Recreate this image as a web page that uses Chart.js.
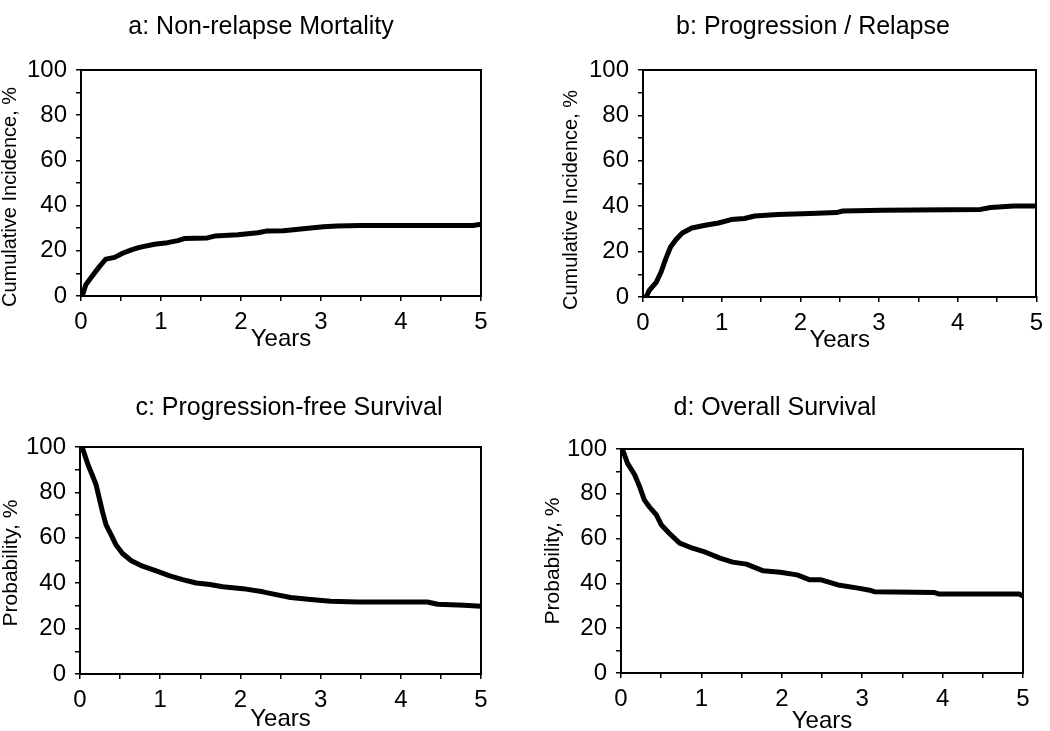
<!DOCTYPE html>
<html>
<head>
<meta charset="utf-8">
<script src="https://cdn.jsdelivr.net/npm/chart.js@4.4.0/dist/chart.umd.min.js"></script>
<style>
html,body{margin:0;padding:0;background:#fff;overflow:hidden;width:1050px;height:731px;}
canvas{position:absolute;display:block;}
</style>
</head>
<body>
<canvas id="cA" width="525" height="365" style="left:0;top:0"></canvas>
<canvas id="cB" width="525" height="365" style="left:525px;top:0"></canvas>
<canvas id="cC" width="525" height="366" style="left:0;top:365px"></canvas>
<canvas id="cD" width="525" height="366" style="left:525px;top:365px"></canvas>
<script>
// ---------- data ----------
const nrmYears = [0, 0.02, 0.06, 0.15, 0.23, 0.31, 0.42, 0.52, 0.63, 0.73, 0.92, 1.08, 1.21, 1.29, 1.58, 1.67, 1.96, 2.21, 2.33, 2.53, 2.78, 3.03, 3.2, 3.49, 4.9, 5.0];
const nrmPct   = [0, 0.5, 5, 9.3, 13, 16.3, 17.1, 18.9, 20.4, 21.5, 22.9, 23.6, 24.5, 25.4, 25.7, 26.5, 27.1, 28, 28.8, 28.9, 29.8, 30.6, 31, 31.2, 31.2, 31.8];

const relapseYears = [0, 0.04, 0.08, 0.17, 0.23, 0.29, 0.35, 0.42, 0.5, 0.62, 0.79, 0.96, 1.12, 1.29, 1.42, 1.71, 2.13, 2.46, 2.54, 3.04, 4.29, 4.42, 4.71, 5.0];
const relapsePct   = [0, 0, 2.9, 6.6, 11, 16.9, 22, 25.3, 28.2, 30.4, 31.6, 32.6, 34.1, 34.6, 35.7, 36.3, 36.8, 37.2, 37.9, 38.2, 38.6, 39.4, 40.1, 40.1];

const pfsYears = [0, 0.03, 0.1, 0.16, 0.2, 0.24, 0.28, 0.325, 0.39, 0.45, 0.53, 0.64, 0.78, 0.95, 1.12, 1.28, 1.45, 1.62, 1.78, 2.03, 2.28, 2.43, 2.625, 2.875, 3.125, 3.46, 4.33, 4.46, 4.79, 5.0];
const pfsPct   = [100, 99.6, 92.2, 87, 83.4, 77.5, 71.5, 65.7, 61.2, 56.8, 53.1, 49.9, 47.5, 45.4, 43.2, 41.6, 40.1, 39.4, 38.4, 37.6, 36.2, 35.1, 33.7, 32.8, 32, 31.7, 31.7, 30.7, 30.3, 29.8];

const osYears = [0, 0.02, 0.08, 0.17, 0.23, 0.29, 0.35, 0.44, 0.5, 0.6, 0.73, 0.89, 1.06, 1.23, 1.39, 1.56, 1.77, 1.98, 2.19, 2.35, 2.49, 2.7, 2.95, 3.11, 3.15, 3.9, 3.95, 4.95, 5.0];
const osPct   = [100, 99.7, 93.7, 88.5, 83.3, 77.3, 74.3, 70.6, 66.2, 62.4, 58, 55.7, 53.8, 51.3, 49.5, 48.6, 45.6, 45, 43.8, 41.6, 41.6, 39.3, 37.9, 36.8, 36.3, 35.9, 35.3, 35.3, 34.4];

const yearTicks = [0, 1, 2, 3, 4, 5];
const pctTicks = [0, 20, 40, 60, 80, 100];
const panelTitles = ['a: Non-relapse Mortality', 'b: Progression / Relapse', 'c: Progression-free Survival', 'd: Overall Survival'];
const yAxisTitles = ['Cumulative Incidence, %', 'Cumulative Incidence, %', 'Probability, %', 'Probability, %'];
const xAxisTitle = 'Years';

// ---------- layout (page coordinates) ----------
const FONT = '"Liberation Sans", Arial, Helvetica, sans-serif';
Chart.defaults.font.family = FONT;
Chart.defaults.color = '#000';

const panels = [
  {id:'cA', ox:0,   oy:0,   w:525, h:365, L:81,  T:70,  R:481,  B:296, tx:261, ty:27,  yx:10,  yy:197, ys:20, xtc:339, xs:nrmYears, vs:nrmPct},
  {id:'cB', ox:525, oy:0,   w:525, h:365, L:643, T:70,  R:1042, B:297, tx:813, ty:27,  yx:571, yy:200, ys:20, xtc:340, xs:relapseYears, vs:relapsePct},
  {id:'cC', ox:0,   oy:365, w:525, h:366, L:80,  T:447, R:481,  B:674, tx:289, ty:408, yx:11,  yy:563, ys:21, xtc:719, xs:pfsYears, vs:pfsPct},
  {id:'cD', ox:525, oy:365, w:525, h:366, L:621, T:449, R:1023, B:673, tx:775, ty:408, yx:553, yy:561, ys:21, xtc:721, xs:osYears, vs:osPct}
];

const panelText = {
  id: 'panelText',
  afterDraw(chart, args, o) {
    const ctx = chart.ctx;
    ctx.save();
    ctx.fillStyle = '#000';
    ctx.textAlign = 'center';
    ctx.textBaseline = 'middle';
    ctx.font = '25px ' + FONT;
    ctx.fillText(o.title, o.tx, o.ty);
    ctx.translate(o.yx, o.yy);
    ctx.rotate(-Math.PI / 2);
    ctx.font = o.ySize + 'px ' + FONT;
    ctx.fillText(o.ytitle, 0, 0);
    ctx.restore();
  }
};

const gridOpts = {display:true, drawOnChartArea:false, drawTicks:true, tickLength:5, color:'#000', lineWidth:1.5};
const borderOpts = {display:true, color:'#000', width:2};

panels.forEach((p, i) => {
  const l = p.L - p.ox, t = p.T - p.oy, r = p.R - p.ox, b = p.B - p.oy;
  const yw = 60;
  const xh = p.xtc - p.B + 8;
  new Chart(document.getElementById(p.id), {
    type: 'line',
    data: {
      datasets: [{
        data: p.xs.map((x, k) => ({x: x, y: p.vs[k]})),
        borderColor: '#000',
        backgroundColor: '#000',
        borderWidth: 5,
        pointRadius: 0,
        tension: 0,
        fill: false,
        borderJoinStyle: 'round',
        borderCapStyle: 'round'
      }]
    },
    options: {
      responsive: false,
      animation: false,
      devicePixelRatio: 1,
      events: [],
      layout: {padding: {left: l - yw, top: t, right: p.w - r, bottom: p.h - b - xh}},
      plugins: {
        legend: {display: false},
        tooltip: {enabled: false},
        panelText: {title: panelTitles[i], tx: p.tx - p.ox, ty: p.ty - p.oy,
                    ytitle: yAxisTitles[i], yx: p.yx - p.ox, yy: p.yy - p.oy, ySize: p.ys}
      },
      scales: {
        x: {
          type: 'linear', position: 'bottom', min: 0, max: 5,
          afterFit(s) { s.height = xh; },
          ticks: {stepSize: 0.5, autoSkip: false, maxRotation: 0, padding: 7, color: '#000', font: {size: 24},
                  callback: v => yearTicks.includes(v) ? String(v) : ''},
          grid: gridOpts,
          border: borderOpts,
          title: {display: true, text: xAxisTitle, color: '#000', font: {size: 24, lineHeight: 1}, padding: {top: 0, bottom: -4}}
        },
        y: {
          type: 'linear', position: 'left', min: 0, max: 100,
          afterFit(s) { s.width = yw; },
          ticks: {stepSize: 10, autoSkip: false, padding: 9, color: '#000', font: {size: 24},
                  callback: v => pctTicks.includes(v) ? String(v) : ''},
          grid: gridOpts,
          border: borderOpts
        },
        x2: {
          type: 'linear', position: 'top', min: 0, max: 5, display: true,
          afterFit(s) { s.height = 0; },
          ticks: {display: false}, grid: {display: false}, border: borderOpts
        },
        y2: {
          type: 'linear', position: 'right', min: 0, max: 100, display: true,
          afterFit(s) { s.width = 0; },
          ticks: {display: false}, grid: {display: false}, border: borderOpts
        }
      }
    },
    plugins: [panelText]
  });
});
</script>
</body>
</html>
